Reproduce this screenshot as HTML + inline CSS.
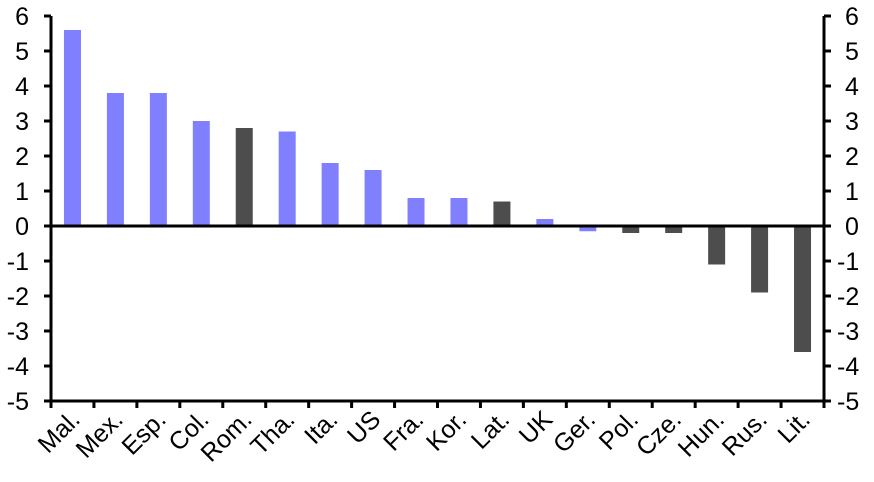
<!DOCTYPE html>
<html><head><meta charset="utf-8"><style>html,body{margin:0;padding:0;background:#fff}svg{display:block}svg text{font-family:"Liberation Sans",Arial,sans-serif !important;font-size:25px !important}</style></head>
<body>
<svg width="874" height="482" viewBox="0 0 874 482" xmlns="http://www.w3.org/2000/svg" style="font-family:'Liberation Sans',Arial,sans-serif;font-size:25px">
<g>
<rect x="63.97" y="30" width="17" height="196" fill="#8080ff"/>
<rect x="106.92" y="93" width="17" height="133" fill="#8080ff"/>
<rect x="149.86" y="93" width="17" height="133" fill="#8080ff"/>
<rect x="192.81" y="121" width="17" height="105" fill="#8080ff"/>
<rect x="235.75" y="128" width="17" height="98" fill="#4d4d4d"/>
<rect x="278.69" y="131.5" width="17" height="94.5" fill="#8080ff"/>
<rect x="321.64" y="163" width="17" height="63" fill="#8080ff"/>
<rect x="364.58" y="170" width="17" height="56" fill="#8080ff"/>
<rect x="407.53" y="198" width="17" height="28" fill="#8080ff"/>
<rect x="450.47" y="198" width="17" height="28" fill="#8080ff"/>
<rect x="493.42" y="201.5" width="17" height="24.5" fill="#4d4d4d"/>
<rect x="536.36" y="219" width="17" height="7" fill="#8080ff"/>
<rect x="579.31" y="226" width="17" height="5.25" fill="#8080ff"/>
<rect x="622.25" y="226" width="17" height="7" fill="#4d4d4d"/>
<rect x="665.19" y="226" width="17" height="7" fill="#4d4d4d"/>
<rect x="708.14" y="226" width="17" height="38.5" fill="#4d4d4d"/>
<rect x="751.08" y="226" width="17" height="66.5" fill="#4d4d4d"/>
<rect x="794.03" y="226" width="17" height="126" fill="#4d4d4d"/>
</g>
<g text-anchor="end">
<text transform="translate(81.47,421) rotate(-45)">Mal.</text>
<text transform="translate(124.42,421) rotate(-45)">Mex.</text>
<text transform="translate(167.36,421) rotate(-45)">Esp.</text>
<text transform="translate(210.31,421) rotate(-45)">Col.</text>
<text transform="translate(253.25,421) rotate(-45)">Rom.</text>
<text transform="translate(296.19,421) rotate(-45)">Tha.</text>
<text transform="translate(339.14,421) rotate(-45)">Ita.</text>
<text transform="translate(382.08,421) rotate(-45)">US</text>
<text transform="translate(425.03,421) rotate(-45)">Fra.</text>
<text transform="translate(467.97,421) rotate(-45)">Kor.</text>
<text transform="translate(510.92,421) rotate(-45)">Lat.</text>
<text transform="translate(553.86,421) rotate(-45)">UK</text>
<text transform="translate(596.81,421) rotate(-45)">Ger.</text>
<text transform="translate(639.75,421) rotate(-45)">Pol.</text>
<text transform="translate(682.69,421) rotate(-45)">Cze.</text>
<text transform="translate(725.64,421) rotate(-45)">Hun.</text>
<text transform="translate(768.58,421) rotate(-45)">Rus.</text>
<text transform="translate(811.53,421) rotate(-45)">Lit.</text>
</g>
<g stroke="#000" stroke-width="3">
<path d="M51 401v7M93.94 401v7M136.89 401v7M179.83 401v7M222.78 401v7M265.72 401v7M308.67 401v7M351.61 401v7M394.56 401v7M437.5 401v7M480.44 401v7M523.39 401v7M566.33 401v7M609.28 401v7M652.22 401v7M695.17 401v7M738.11 401v7M781.06 401v7M824 401v7"/>
<path d="M44 16h7M44 51h7M44 86h7M44 121h7M44 156h7M44 191h7M44 226h7M44 261h7M44 296h7M44 331h7M44 366h7M44 401h7"/>
<path d="M824 16h7M824 51h7M824 86h7M824 121h7M824 156h7M824 191h7M824 226h7M824 261h7M824 296h7M824 331h7M824 366h7M824 401h7"/>
<path d="M51 16V402M824 16V402M51 401H824M51 226H824" fill="none"/>
</g>
<g text-anchor="end">
<text x="29" y="25">6</text><text x="29" y="60">5</text><text x="29" y="95">4</text><text x="29" y="130">3</text><text x="29" y="165">2</text><text x="29" y="200">1</text><text x="29" y="235">0</text><text x="29" y="270">-1</text><text x="29" y="305">-2</text><text x="29" y="340">-3</text><text x="29" y="375">-4</text><text x="29" y="410">-5</text>
</g>
<g>
<text x="845" y="25">6</text><text x="845" y="60">5</text><text x="845" y="95">4</text><text x="845" y="130">3</text><text x="845" y="165">2</text><text x="845" y="200">1</text><text x="845" y="235">0</text><text x="837" y="270">-1</text><text x="837" y="305">-2</text><text x="837" y="340">-3</text><text x="837" y="375">-4</text><text x="837" y="410">-5</text>
</g>
</svg>
</body></html>
